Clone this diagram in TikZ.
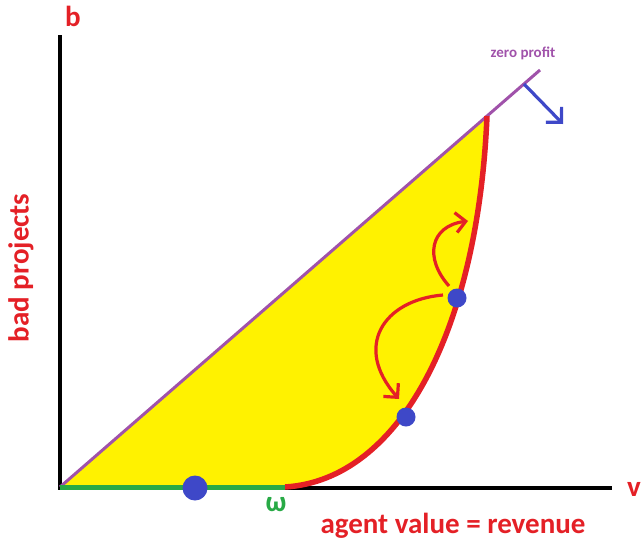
\documentclass[tikz,border=0pt]{standalone}
\usepackage{fontspec}
\setmainfont{Carlito}
\usetikzlibrary{arrows.meta}
\definecolor{myred}{RGB}{228,32,38}
\definecolor{mypurple}{RGB}{160,82,170}
\definecolor{myblue}{RGB}{62,72,200}
\definecolor{mygreen}{RGB}{40,170,70}
\definecolor{myyellow}{RGB}{255,242,0}
\tikzset{lbl/.style={text=myred,font=\bfseries\fontsize{29}{31}\selectfont},dot/.style={circle,fill=myblue,inner sep=0pt,minimum size=#1}}
\begin{document}
\begin{tikzpicture}[x=1pt,y=-1pt]
\useasboundingbox(0,0)rectangle(642,544);
\coordinate(o)at(60,487);\coordinate(w)at(285,487);\coordinate(t)at(487,116);\coordinate(zp)at(540,70);
\fill[myyellow](o)--(w)..controls(400,480)and(478,330)..(t)--cycle;
\draw[line width=3.5pt](60,35)--(60,488)--(612,488);
\draw[mypurple,line width=3pt](o)--(zp);
\draw[myred,line width=5.5pt](w)..controls(400,480)and(478,330)..(t);
\draw[mygreen,line width=5pt](o)--(w);
\node[dot=25pt](d0)at(195,488){};\node[dot=19pt](d1)at(457,298){};\node[dot=19pt](d2)at(406,417){};
\draw[myred,line width=3.2pt,-{Straight Barb[length=10pt,width=20pt]}](449,286)..controls(424,258)and(430,226)..(468,221);
\draw[myred,line width=3.2pt,-{Straight Barb[length=10pt,width=20pt]}](443,295)..controls(383,300)and(353,347)..(399,399);
\draw[myblue,line width=3.2pt,-{Straight Barb[length=11pt,width=22pt]}](524,84)--(563,124);
\node[lbl](b)at(73,16){b};\node[lbl](v)at(634,489){v};
\node[lbl,rotate=90](bp)at(21,268){bad projects};
\node[lbl](av)at(453,526){agent value = revenue};
\node[lbl,text=mygreen](om)at(276,505){ω};
\node[text=mypurple,font=\bfseries\fontsize{15}{16}\selectfont](zt)at(523,53){zero profit};
\end{tikzpicture}
\end{document}
